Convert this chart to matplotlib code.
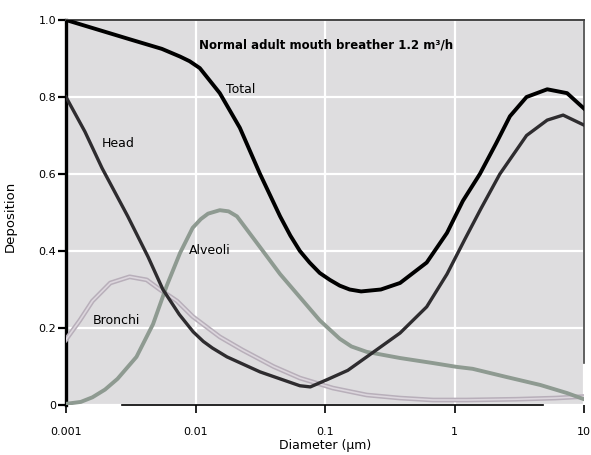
import matplotlib
matplotlib.use("Agg")
import matplotlib.pyplot as plt

# deposition fractions, diameter in um
diam_total = [0.001, 0.0031, 0.0055, 0.0076, 0.009, 0.0108, 0.0154, 0.022, 0.0315, 0.045, 0.054,
              0.064, 0.076, 0.091, 0.109, 0.13, 0.155, 0.19, 0.27, 0.38, 0.61, 0.875, 1.16, 1.57,
              2.1, 2.68, 3.6, 5.2, 7.4, 10]
total = [1.0, 0.95, 0.925, 0.905, 0.893, 0.875, 0.81, 0.72, 0.60, 0.49, 0.44,
         0.40, 0.37, 0.343, 0.325, 0.31, 0.30, 0.295, 0.30, 0.317, 0.37, 0.447, 0.53, 0.60,
         0.68, 0.75, 0.80, 0.82, 0.81, 0.77]

diam_head = [0.001, 0.0014, 0.0019, 0.003, 0.0043, 0.0056, 0.0075, 0.0096, 0.0115, 0.0135, 0.0175,
             0.0315, 0.064, 0.077, 0.104, 0.15, 0.21, 0.38, 0.61, 0.875, 1.2, 1.6, 2.24, 3.6, 5.2,
             6.9, 10]
head = [0.80, 0.71, 0.615, 0.49, 0.385, 0.30, 0.235, 0.19, 0.165, 0.148, 0.125,
        0.086, 0.05, 0.047, 0.066, 0.09, 0.125, 0.187, 0.255, 0.34, 0.43, 0.51, 0.60, 0.70, 0.74,
        0.753, 0.727]

diam_alv = [0.001, 0.0013, 0.0016, 0.002, 0.0025, 0.0035, 0.0047, 0.006, 0.0076, 0.0095, 0.011,
            0.0125, 0.0154, 0.018, 0.0209, 0.0315, 0.045, 0.064, 0.091, 0.13, 0.16, 0.21, 0.38,
            0.68, 1.04, 1.38, 2.5, 4.6, 7.4, 10]
alveoli = [0.003, 0.008, 0.02, 0.04, 0.068, 0.125, 0.21, 0.31, 0.395, 0.46, 0.483,
           0.497, 0.506, 0.503, 0.49, 0.41, 0.34, 0.28, 0.22, 0.172, 0.152, 0.138, 0.122,
           0.109, 0.099, 0.094, 0.073, 0.052, 0.031, 0.015]

diam_br = [0.001, 0.00128, 0.0016, 0.0022, 0.0031, 0.0042, 0.0053, 0.0072, 0.0095, 0.0154, 0.023,
           0.04, 0.064, 0.115, 0.21, 0.38, 0.68, 1.25, 3, 6, 10]
bronchi = [0.17, 0.22, 0.27, 0.317, 0.333, 0.325, 0.30, 0.27, 0.23, 0.177, 0.143,
           0.10, 0.07, 0.044, 0.026, 0.018, 0.013, 0.013, 0.015, 0.018, 0.022]

x_ticks = [0.001, 0.01, 0.1, 1, 10]
x_labels = ["0.001", "0.01", "0.1", "1", "10"]
y_ticks = [0, 0.2, 0.4, 0.6, 0.8, 1.0]
y_labels = ["0", "0.2", "0.4", "0.6", "0.8", "1.0"]

fig = plt.figure(figsize=(5.91, 4.55), dpi=100)
ax = fig.add_axes([66 / 591, 50 / 455, 518 / 591, 385 / 455])
ax.set_facecolor("#dedddf")

ax.plot(diam_br, bronchi, color="#b8afba", lw=3.4, zorder=3)
ax.plot(diam_br, bronchi, color="#dcd6dd", lw=1.2, zorder=3)
ax.plot(diam_alv, alveoli, color="#8e9a91", lw=2.8, zorder=4)
ax.plot(diam_head, head, color="#2e2c2f", lw=2.4, zorder=5)
ax.plot(diam_total, total, color="black", lw=2.8, zorder=6)

ax.set_xscale("log")
ax.set_xlim(0.001, 10)
ax.set_ylim(0, 1.0)

ax.grid(True, color="white", lw=1.6)
ax.set_axisbelow(True)
ax.minorticks_off()

ax.set_xticks(x_ticks)
ax.set_xticklabels(x_labels)
ax.set_yticks(y_ticks)
ax.set_yticklabels(y_labels)
ax.tick_params(axis="x", length=6, width=1.2, pad=10, labelsize=8)
ax.tick_params(axis="y", length=6, width=1.6, pad=1, labelsize=8)

ax.spines["left"].set_linewidth(2.4)
ax.spines["top"].set_color("#444444")
ax.spines["top"].set_linewidth(1.4)
ax.spines["right"].set_color("#444444")
ax.spines["right"].set_linewidth(1.2)
ax.spines["right"].set_bounds(0.11, 1.0)
ax.spines["bottom"].set_bounds(0.0027, 4.8)
ax.spines["bottom"].set_linewidth(1.2)

ax.set_xlabel("Diameter (\u00b5m)", fontsize=9, labelpad=1)
ax.set_ylabel("Deposition", fontsize=9.5)
ax.yaxis.set_label_coords(-0.095, 0.49)

ax.text(0.0107, 0.935, "Normal adult mouth breather 1.2 m\u00b3/h", fontsize=8.5,
        fontweight="bold", va="center", ha="left")
ax.text(0.0172, 0.82, "Total", fontsize=9, va="center")
ax.text(0.00188, 0.68, "Head", fontsize=9, va="center")
ax.text(0.0089, 0.40, "Alveoli", fontsize=9, va="center")
ax.text(0.00162, 0.22, "Bronchi", fontsize=9, va="center")

fig.savefig("out.png", dpi=100)
